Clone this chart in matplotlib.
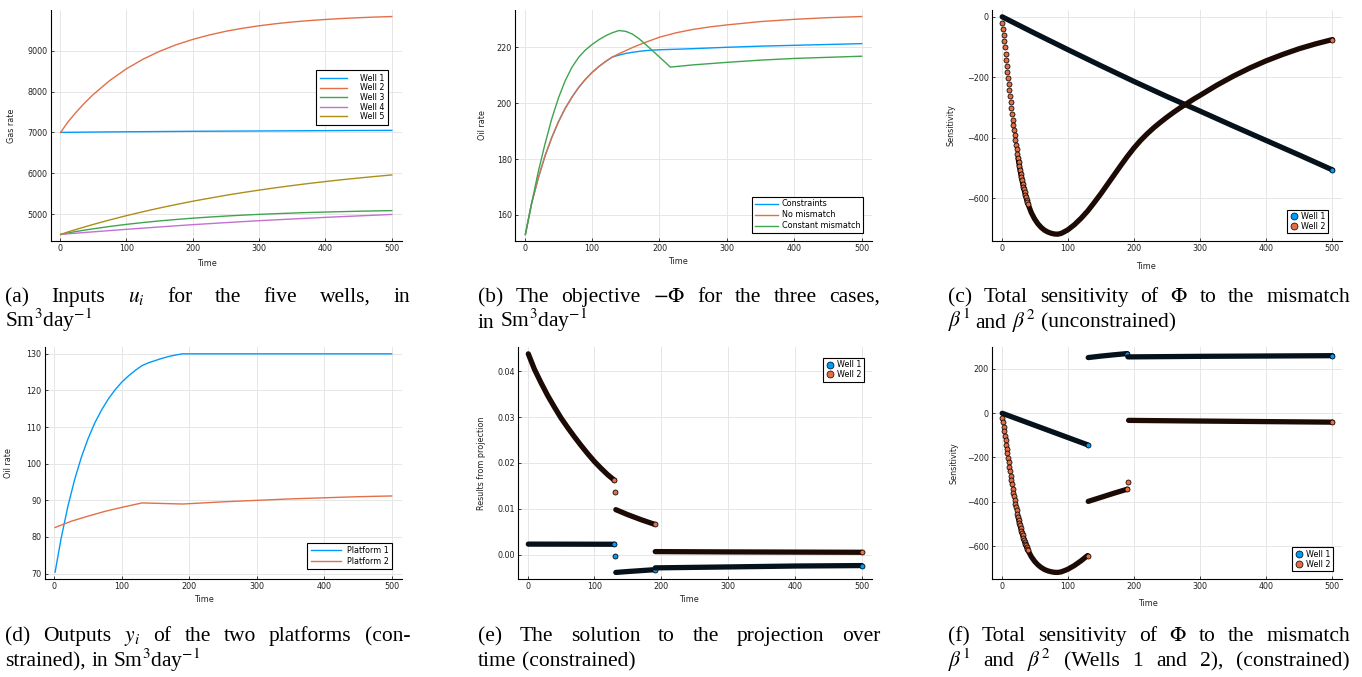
import numpy as np
import matplotlib
matplotlib.use('Agg')
import matplotlib.pyplot as plt
from matplotlib.lines import Line2D
from matplotlib.ticker import FormatStrFormatter, MultipleLocator

plt.rcParams['mathtext.fontset'] = 'stix'
plt.rcParams['font.family'] = 'DejaVu Sans'

# ---------------- data ----------------
# (a) gas rate inputs
t_a = [1, 12, 25, 37, 50, 75, 100, 125, 150, 175, 200, 225, 250, 275, 300, 325, 350, 375, 400, 425, 450, 475, 500]
gas_well1 = [7000, 7002, 7004, 7006, 7008, 7012, 7015, 7018, 7021, 7024, 7027, 7029, 7031, 7033, 7035, 7037, 7039,
             7041, 7043, 7045, 7047, 7048, 7050]
gas_well2 = [7000, 7256, 7507, 7718, 7926, 8271, 8556, 8792, 8986, 9146, 9277, 9386, 9477, 9550, 9611, 9662, 9704,
             9738, 9766, 9790, 9809, 9825, 9838]
gas_well3 = [4500, 4536, 4574, 4606, 4638, 4696, 4747, 4792, 4832, 4867, 4899, 4926, 4951, 4973, 4992, 5009, 5024,
             5038, 5049, 5059, 5069, 5077, 5084]
gas_well4 = [4500, 4516, 4532, 4548, 4564, 4595, 4626, 4655, 4684, 4712, 4740, 4765, 4790, 4814, 4837, 4858, 4879,
             4899, 4919, 4937, 4955, 4972, 4990]
gas_well5 = [4500, 4562, 4626, 4684, 4745, 4856, 4960, 5057, 5148, 5233, 5314, 5388, 5459, 5525, 5586, 5644, 5698,
             5749, 5796, 5841, 5882, 5921, 5958]
wells_a = ["Well 1", "Well 2", "Well 3", "Well 4", "Well 5"]

# (b) objective
t_b_cons = [1, 10, 20, 30, 40, 50, 60, 70, 80, 90, 100, 110, 120, 130, 140, 150, 160, 175, 190, 200, 250, 300, 350, 400, 450, 500]
obj_cons = [153.0, 163.9, 173.1, 181.0, 187.6, 193.3, 198.1, 202.1, 205.6, 208.5, 211.0, 213.1, 214.9, 216.5,
            217.2, 217.8, 218.2, 218.7, 219.0, 219.1, 219.5, 220.0, 220.4, 220.7, 221.0, 221.3]
t_b_nomis = [1, 10, 20, 30, 40, 50, 60, 70, 80, 90, 100, 110, 120, 130, 140, 150, 160, 175, 200, 225, 250, 275, 300, 350, 400, 450, 500]
obj_nomis = [153.0, 163.9, 173.1, 181.0, 187.6, 193.3, 198.1, 202.1, 205.6, 208.5, 211.0, 213.1, 214.9, 216.5,
             217.7, 218.8, 219.9, 221.4, 223.6, 225.2, 226.4, 227.3, 228.0, 229.2, 230.0, 230.6, 231.0]
t_b_const = [1, 10, 20, 30, 40, 50, 60, 70, 80, 90, 100, 110, 120, 130, 140, 150, 160, 170, 180, 190, 200, 210, 216,
             250, 300, 350, 400, 450, 500]
obj_const = [153.0, 163.8, 175.3, 185.3, 194.3, 201.8, 208.0, 212.8, 216.4, 219.0, 221.0, 222.7, 224.1, 225.2, 226.0,
             225.7, 224.7, 223.0, 220.9, 218.7, 216.5, 214.3, 212.9, 213.7, 214.6, 215.4, 216.0, 216.4, 216.8]
cases_b = ["Constraints", "No mismatch", "Constant mismatch"]

# (c) sensitivity, unconstrained
t_c_w1 = [1, 50, 100, 150, 200, 250, 300, 350, 400, 450, 500]
sens_c_w1 = [-1, -55, -109, -162, -214, -264, -312, -361, -409, -457, -506]
t_w2_early = list(range(1, 41))
sens_w2_early = [-22, -42, -62, -82, -102, -122, -142, -162, -182, -202, -222, -242, -262, -282, -302,
                 -321.5, -340.5, -358.5, -375.5, -392, -408, -423.5, -438.5, -453, -467, -480.5, -493.5,
                 -506, -518, -529.5, -540.5, -551, -561, -570.5, -579.5, -588, -596, -604, -611.5, -618.5]
t_w2_mid = [45, 50, 55, 60, 65, 70, 75, 80, 85, 90, 95, 100, 110, 120, 130]
sens_w2_mid = [-647, -668, -684, -696, -705, -711, -715, -717.5, -718, -715.5, -710, -704, -687, -666, -642]
t_c_w2_late = [140, 150, 160, 170, 180, 190, 200, 210, 220, 230, 240, 250, 260, 270, 280, 290, 300,
               325, 350, 375, 400, 425, 450, 475, 500]
sens_c_w2_late = [-614, -585, -554, -523, -492, -462, -434, -409, -387, -367, -349, -332, -316, -301, -287,
                  -273, -260, -227, -197, -170, -146, -125, -106, -90, -76]

# (d) platform outputs
t_d_p1 = [1, 10, 20, 30, 40, 50, 60, 70, 80, 90, 100, 110, 120, 130, 140, 150, 160, 170, 180, 190, 250, 300, 400, 500]
oil_p1 = [70.4, 79.7, 88.4, 95.7, 101.8, 106.9, 111.2, 114.7, 117.7, 120.2, 122.3, 124.0, 125.5, 126.8,
          127.6, 128.2, 128.8, 129.3, 129.7, 130.0, 130.0, 130.0, 130.0, 130.0]
t_d_p2 = [1, 25, 50, 75, 100, 130, 160, 190, 250, 300, 350, 400, 450, 500]
oil_p2 = [82.6, 84.3, 85.7, 87.0, 88.1, 89.3, 89.15, 89.0, 89.6, 90.0, 90.4, 90.7, 91.0, 91.2]
platforms = ["Platform 1", "Platform 2"]

# (e) projection solution (constrained): segments
t_e_w1 = [[1, 60, 130], [131], [132, 150, 170, 190], [191, 300, 400, 500]]
proj_w1 = [[0.00228, 0.00227, 0.00225], [-0.00022], [-0.0039, -0.0037, -0.0035, -0.0033],
           [-0.0029, -0.0027, -0.0025, -0.0024]]
t_e_w2 = [[1, 10, 20, 30, 40, 50, 60, 70, 80, 90, 100, 110, 120, 130], [131], [132, 150, 170, 190],
          [191, 300, 400, 500]]
proj_w2 = [[0.0438, 0.0405, 0.0375, 0.0347, 0.0322, 0.0298, 0.0277, 0.0257, 0.0238, 0.0220, 0.0203, 0.0188,
            0.0174, 0.0162], [0.0136], [0.0098, 0.0087, 0.0076, 0.0066], [0.00065, 0.00058, 0.00054, 0.0005]]

# (f) sensitivity, constrained: segments
t_f_w1 = [[1, 50, 100, 130], [131, 150, 170, 190], [191, 300, 400, 500]]
sens_f_w1 = [[-1, -55, -110, -143], [250, 256.5, 262.5, 268], [253, 255.5, 257, 258.5]]
t_f_w2_late = [[131, 150, 170, 190], [191], [192, 300, 400, 500]]
sens_f_w2_late = [[-398, -380, -361, -343], [-312], [-33, -36, -38.5, -41]]

wells_sens = ["Well 1", "Well 2"]

# ---------------- style ----------------
C = ['#009AFA', '#E36F47', '#3EA44E', '#C371D2', '#AC8E18']
DARK1 = '#06121b'
DARK2 = '#1c0b05'
W, H = 1362, 677
TFS = 5.8

fig = plt.figure(figsize=(W / 100, H / 100), dpi=100)


def px_axes(left, top, right, bottom):
    return fig.add_axes([left / W, 1 - bottom / H, (right - left) / W, (bottom - top) / H])


def pad(lo, hi, f=0.03):
    d = (hi - lo) * f
    return lo - d, hi + d


def style(ax, xlab_pos, ylab, ylab_x):
    for s in ['top', 'right']:
        ax.spines[s].set_visible(False)
    for s in ['left', 'bottom']:
        ax.spines[s].set_color('black')
        ax.spines[s].set_linewidth(0.8)
    ax.grid(True, color='#e6e6e6', lw=0.7)
    ax.set_axisbelow(True)
    ax.tick_params(direction='in', length=2.5, width=0.6, labelsize=TFS, pad=2.5, colors='#222222')
    ax.set_xlim(*pad(1, 500))
    ax.xaxis.set_major_locator(MultipleLocator(100))
    ax.set_xlabel('Time', fontsize=TFS, color='#222222')
    ax.xaxis.set_label_coords(xlab_pos[0], xlab_pos[1])
    ax.set_ylabel(ylab, fontsize=TFS, color='#222222')
    ax.yaxis.set_label_coords(ylab_x, 0.5)


def legend(ax, handles, labels, loc, anchor, **kw):
    lg = ax.legend(handles, labels, loc=loc, bbox_to_anchor=anchor, fontsize=TFS, frameon=True,
                   fancybox=False, borderaxespad=0, **kw)
    fr = lg.get_frame()
    fr.set_edgecolor('black')
    fr.set_linewidth(0.8)
    fr.set_alpha(1)
    return lg


MS = 13
EW = 0.55
BAND = 3.8


def band(ax, t, v, col):
    ax.plot(t, v, color=col, lw=BAND, solid_capstyle='round', zorder=3)


def dots(ax, t, v, col):
    ax.scatter(t, v, s=MS, facecolor=col, edgecolor='black', linewidths=EW, zorder=3)


def scatter_handles():
    return [Line2D([], [], ls='none', marker='o', ms=5, mfc=C[i], mec='black', mew=0.5) for i in range(2)]


SCAT_LEG = dict(handlelength=1.1, handletextpad=0.35, labelspacing=0.1, borderpad=0.3)

# ---- (a)
ax = px_axes(50.7, 10, 401.7, 241)
series_a = [gas_well1, gas_well2, gas_well3, gas_well4, gas_well5]
for i, s in enumerate(series_a):
    ax.plot(t_a, s, color=C[i], lw=1.0, label=wells_a[i])
allv = np.concatenate(series_a)
ax.set_ylim(*pad(allv.min(), allv.max()))
ax.yaxis.set_major_locator(MultipleLocator(1000))
style(ax, (0.446, -0.079), 'Gas rate', -0.099)
h, l = ax.get_legend_handles_labels()
legend(ax, h, l, 'upper right', (0.961, 0.740), handlelength=3.4, handletextpad=1.6, labelspacing=0.08,
       borderpad=0.45)

# ---- (b)
ax = px_axes(515.3, 10, 871.7, 241)
ax.plot(t_b_cons, obj_cons, color=C[0], lw=1.0, label=cases_b[0])
ax.plot(t_b_nomis, obj_nomis, color=C[1], lw=1.0, label=cases_b[1])
ax.plot(t_b_const, obj_const, color=C[2], lw=1.0, label=cases_b[2])
allv = np.concatenate([obj_cons, obj_nomis, obj_const])
ax.set_ylim(*pad(allv.min(), allv.max()))
ax.yaxis.set_major_locator(MultipleLocator(20))
style(ax, (0.456, -0.068), 'Oil rate', -0.080)
h, l = ax.get_legend_handles_labels()
legend(ax, h, l, 'lower right', (0.9756, 0.0333), handlelength=2.8, handletextpad=0.5, labelspacing=0.25,
       borderpad=0.35)

# ---- (c)
ax = px_axes(992.3, 10, 1342.3, 240.7)
band(ax, t_c_w1, sens_c_w1, DARK1)
dots(ax, t_c_w1[-1:], sens_c_w1[-1:], C[0])
band(ax, t_w2_early[24:] + t_w2_mid + t_c_w2_late, sens_w2_early[24:] + sens_w2_mid + sens_c_w2_late, DARK2)
dots(ax, t_w2_early, sens_w2_early, C[1])
dots(ax, t_c_w2_late[-1:], sens_c_w2_late[-1:], C[1])
allv = np.concatenate([sens_c_w1, sens_w2_early, sens_w2_mid, sens_c_w2_late])
ax.set_ylim(*pad(allv.min(), 0))
ax.yaxis.set_major_locator(MultipleLocator(200))
style(ax, (0.439, -0.091), 'Sensitivity', -0.104)
legend(ax, scatter_handles(), wells_sens, 'lower right', (0.959, 0.032), **SCAT_LEG)

# ---- (d)
ax = px_axes(45, 347.3, 401.7, 578.7)
ax.plot(t_d_p1, oil_p1, color=C[0], lw=1.0, label=platforms[0])
ax.plot(t_d_p2, oil_p2, color=C[1], lw=1.0, label=platforms[1])
allv = np.concatenate([oil_p1, oil_p2])
ax.set_ylim(*pad(allv.min(), allv.max()))
ax.yaxis.set_major_locator(MultipleLocator(10))
style(ax, (0.445, -0.072), 'Oil rate', -0.089)
h, l = ax.get_legend_handles_labels()
legend(ax, h, l, 'lower right', (0.973, 0.042), handlelength=3.8, handletextpad=0.7, labelspacing=0.25,
       borderpad=0.4)

# ---- (e)
ax = px_axes(518.3, 347.3, 871.7, 579)
for ts, vs in zip(t_e_w1, proj_w1):
    band(ax, ts, vs, DARK1)
    dots(ax, ts[-1:], vs[-1:], C[0])
for ts, vs in zip(t_e_w2, proj_w2):
    band(ax, ts, vs, DARK2)
    dots(ax, ts[-1:], vs[-1:], C[1])
allv = np.concatenate([np.concatenate(x) for x in (proj_w1, proj_w2)])
ax.set_ylim(*pad(allv.min(), allv.max()))
ax.yaxis.set_major_locator(MultipleLocator(0.01))
ax.yaxis.set_major_formatter(FormatStrFormatter('%.2f'))
style(ax, (0.484, -0.069), 'Results from projection', -0.092)
legend(ax, scatter_handles(), wells_sens, 'upper right', (0.978, 0.954), **SCAT_LEG)

# ---- (f)
ax = px_axes(992.3, 347, 1342.3, 579)
for ts, vs in zip(t_f_w1, sens_f_w1):
    band(ax, ts, vs, DARK1)
    dots(ax, ts[-1:], vs[-1:], C[0])
band(ax, t_w2_early[24:] + t_w2_mid, sens_w2_early[24:] + sens_w2_mid, DARK2)
dots(ax, t_w2_early, sens_w2_early, C[1])
dots(ax, t_w2_mid[-1:], sens_w2_mid[-1:], C[1])
for ts, vs in zip(t_f_w2_late, sens_f_w2_late):
    band(ax, ts, vs, DARK2)
    dots(ax, ts[-1:], vs[-1:], C[1])
allv = np.concatenate([np.concatenate(sens_f_w1), sens_w2_early, sens_w2_mid, np.concatenate(sens_f_w2_late)])
ax.set_ylim(*pad(allv.min(), allv.max()))
ax.yaxis.set_major_locator(MultipleLocator(200))
style(ax, (0.446, -0.0875), 'Sensitivity', -0.097)
legend(ax, scatter_handles(), wells_sens, 'lower right', (0.973, 0.0345), **SCAT_LEG)

# ---------------- captions ----------------
CAP = 'Liberation Serif'
captions = [
    (5, 410, 302, [("(a) Inputs $u_i$ for the five wells, in", True), ("Sm$^3$day$^{-1}$", False)]),
    (478, 880, 302, [("(b) The objective $-\\Phi$ for the three cases,", True), ("in Sm$^3$day$^{-1}$", False)]),
    (948, 1350, 302, [("(c) Total sensitivity of $\\Phi$ to the mismatch", True),
                      ("$\\beta^1$ and $\\beta^2$ (unconstrained)", False)]),
    (5, 410, 641, [("(d) Outputs $y_i$ of the two platforms (con-", True),
                   ("strained), in Sm$^3$day$^{-1}$", False)]),
    (478, 880, 641, [("(e) The solution to the projection over", True), ("time (constrained)", False)]),
    (948, 1350, 641, [("(f) Total sensitivity of $\\Phi$ to the mismatch", True),
                      ("$\\beta^1$ and $\\beta^2$ (Wells 1 and 2), (constrained)", True)]),
]
LINE = 25.5
FS = 15.5

r = fig.canvas.get_renderer()


def measure(words, fs):
    ts = [fig.text(0, 0, w, fontsize=fs, family=CAP, va='baseline', ha='left') for w in words]
    ws = [t.get_window_extent(r).width for t in ts]
    return ts, ws


for x0, x1, yb, lines in captions:
    for k, (line, just) in enumerate(lines):
        words = line.split(' ')
        ts, ws = measure(words, FS)
        space = 0.25 * FS * 100 / 72
        if just and len(words) > 1:
            gap = (x1 - x0 - sum(ws)) / (len(words) - 1)
        else:
            gap = space
        x = x0
        for t, w in zip(ts, ws):
            t.set_position((x / W, 1 - (yb + k * LINE) / H))
            x += w + gap

fig.savefig('out.png', dpi=100)
